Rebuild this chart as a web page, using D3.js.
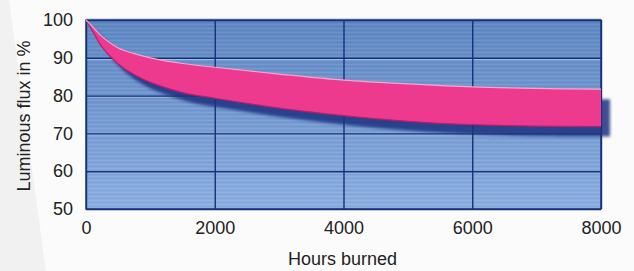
<!DOCTYPE html>
<html>
<head>
<meta charset="utf-8">
<script src="https://cdn.jsdelivr.net/npm/d3@7"></script>
<style>
  body { margin: 0; background: #fbfbfb; }
  svg text { font-family: "Liberation Sans", Arial, "Roboto", sans-serif; fill: #222; }
</style>
</head>
<body>
<div id="chart"></div>
<script>
// data
var hours = [0, 125, 250, 500, 750, 1000, 1500, 2000, 3000, 4000, 5000, 6000, 7000, 8000];
var upperFlux = [100, 97.8, 95.6, 92.6, 91.1, 90.0, 88.5, 87.5, 85.7, 84.1, 83.1, 82.3, 81.9, 81.7];
var lowerFlux = [100, 96.4, 92.8, 88.4, 85.5, 83.5, 80.8, 79.3, 76.7, 74.7, 73.2, 72.3, 71.9, 71.8];
var xTicks = [0, 2000, 4000, 6000, 8000];
var yTicks = [50, 60, 70, 80, 90, 100];

var width = 634, height = 271;
var margin = {top: 20, right: 33, bottom: 62, left: 86};
var w = width - margin.left - margin.right;
var h = height - margin.top - margin.bottom;

var svg = d3.select("#chart").append("svg")
    .attr("width", width)
    .attr("height", height);

// faint grey wedge on the left of the page
svg.append("path")
    .attr("d", "M0,0 L9,0 L46,271 L0,271 Z")
    .attr("fill", "#f1f1f1");

var defs = svg.append("defs");

var grad = defs.append("linearGradient")
    .attr("id", "bg")
    .attr("x1", 0).attr("y1", 0).attr("x2", 0).attr("y2", 1);
grad.append("stop").attr("offset", "0%").attr("stop-color", "#5f87c2");
grad.append("stop").attr("offset", "100%").attr("stop-color", "#8cafe0");

var stripes = defs.append("pattern")
    .attr("id", "stripes")
    .attr("width", 8).attr("height", 4)
    .attr("patternUnits", "userSpaceOnUse");
stripes.append("rect").attr("width", 8).attr("height", 1).attr("fill", "#ffffff").attr("opacity", 0.08);
stripes.append("rect").attr("y", 2).attr("width", 8).attr("height", 1).attr("fill", "#1a3a80").attr("opacity", 0.06);

var blur = defs.append("filter").attr("id", "soft")
    .attr("x", "-5%").attr("y", "-20%").attr("width", "110%").attr("height", "140%");
blur.append("feGaussianBlur").attr("stdDeviation", 1.4);

var g = svg.append("g")
    .attr("transform", "translate(" + margin.left + "," + margin.top + ")");

// scales
var x = d3.scaleLinear().domain([0, 8000]).range([0, w]);
var y = d3.scaleLinear().domain([50, 100]).range([h, 0]);

// plot background
g.append("rect").attr("width", w).attr("height", h).attr("fill", "url(#bg)");
g.append("rect").attr("width", w).attr("height", h).attr("fill", "url(#stripes)");

// light bevel lines under each grid line
g.selectAll(".bevel")
    .data(yTicks.slice(1, -1))
    .enter().append("line")
    .attr("x1", 0).attr("x2", w)
    .attr("y1", function(d) { return y(d) + 1.5; })
    .attr("y2", function(d) { return y(d) + 1.5; })
    .attr("stroke", "#a9c3ea")
    .attr("stroke-width", 1);

// axes with grid lines
var yAxis = g.append("g")
    .call(d3.axisLeft(y).tickValues(yTicks).tickSize(-w).tickPadding(13));
yAxis.select(".domain").remove();
yAxis.selectAll("line").attr("stroke", "#16307a").attr("stroke-width", 1.4);
yAxis.selectAll("text").attr("font-size", "18px").attr("fill", "#222");

var xAxis = g.append("g")
    .attr("transform", "translate(0," + h + ")")
    .call(d3.axisBottom(x).tickValues(xTicks).tickSize(-h).tickPadding(12).tickFormat(d3.format("d")));
xAxis.select(".domain").remove();
xAxis.selectAll("line").attr("stroke", "#16307a").attr("stroke-width", 1.4);
xAxis.selectAll("text").attr("font-size", "18px").attr("fill", "#222");

// plot border
g.append("rect")
    .attr("width", w).attr("height", h)
    .attr("fill", "none")
    .attr("stroke", "#16307a")
    .attr("stroke-width", 1.4);
g.append("line")
    .attr("x1", 0).attr("x2", w).attr("y1", -1.5).attr("y2", -1.5)
    .attr("stroke", "#d4d8e6").attr("stroke-width", 1);

// flux band
var band = hours.map(function(d, i) { return {h: d, hi: upperFlux[i], lo: lowerFlux[i]}; });
var curve = d3.curveCatmullRom.alpha(0.5);

var area = d3.area()
    .x(function(d) { return x(d.h); })
    .y0(function(d) { return y(d.lo); })
    .y1(function(d) { return y(d.hi); })
    .curve(curve);

var upperLine = d3.line()
    .x(function(d) { return x(d.h); })
    .y(function(d) { return y(d.hi); })
    .curve(curve);

var lowerLine = d3.line()
    .x(function(d) { return x(d.h); })
    .y(function(d) { return y(d.lo); })
    .curve(curve);

// drop shadow
g.append("path")
    .datum(band)
    .attr("d", area)
    .attr("transform", "translate(9,10)")
    .attr("fill", "#1d3180")
    .attr("opacity", 0.85)
    .attr("filter", "url(#soft)");

g.append("path")
    .datum(band)
    .attr("d", area)
    .attr("fill", "#ee3a8e");

g.append("path")
    .datum(band)
    .attr("d", lowerLine)
    .attr("fill", "none")
    .attr("stroke", "#b81f68")
    .attr("stroke-width", 1.2);

g.append("path")
    .datum(band)
    .attr("d", upperLine)
    .attr("fill", "none")
    .attr("stroke", "#f7a6cb")
    .attr("stroke-width", 1.2);

// axis titles
svg.append("text")
    .attr("x", margin.left + x(4000) - 1)
    .attr("y", 265)
    .attr("text-anchor", "middle")
    .attr("font-size", "18px")
    .text("Hours burned");

svg.append("text")
    .attr("transform", "translate(30,116) rotate(-90)")
    .attr("text-anchor", "middle")
    .attr("font-size", "18px")
    .text("Luminous flux in %");
</script>
</body>
</html>
